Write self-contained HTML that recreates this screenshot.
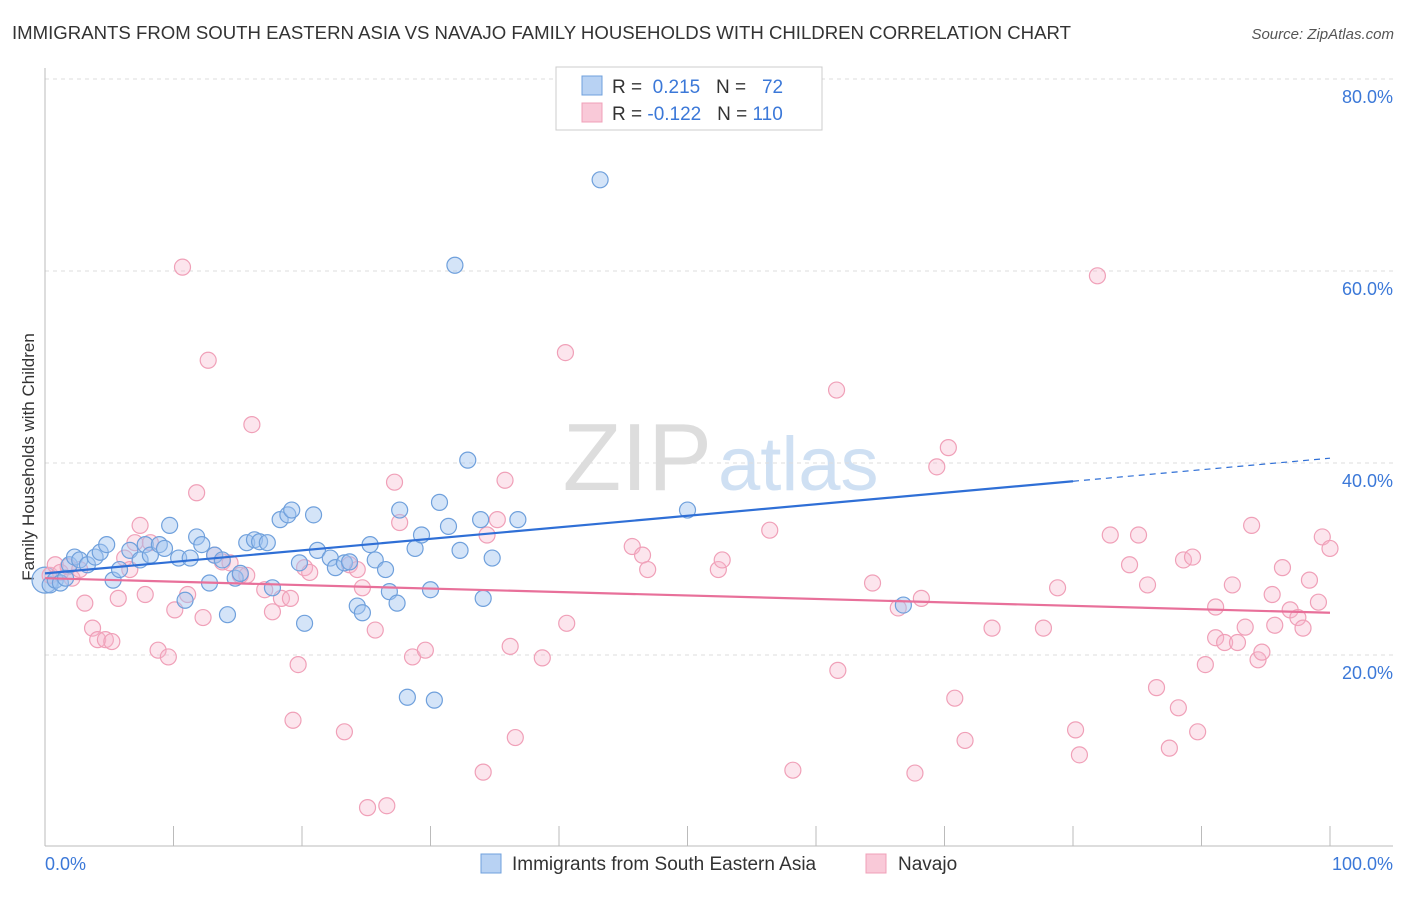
<!DOCTYPE html>
<html><head><meta charset="utf-8"><style>
body{margin:0;background:#fff;font-family:"Liberation Sans",sans-serif}
svg text{font-family:"Liberation Sans",sans-serif}
</style></head><body>
<svg width="1406" height="892" viewBox="0 0 1406 892" xmlns="http://www.w3.org/2000/svg">
<text x="12" y="39" font-size="18.6" fill="#333">IMMIGRANTS FROM SOUTH EASTERN ASIA VS NAVAJO FAMILY HOUSEHOLDS WITH CHILDREN CORRELATION CHART</text>
<text x="1394" y="39" font-size="15" fill="#555" font-style="italic" text-anchor="end">Source: ZipAtlas.com</text>
<text x="712" y="490" font-size="96" fill="#ddd" font-family="Liberation Serif" text-anchor="end">ZIP</text>
<text x="718" y="490" font-size="76" fill="#cfe0f3">atlas</text>
<g id="grid"></g>
<g id="axes"></g>
<text transform="translate(34,457) rotate(-90)" font-size="17" fill="#333" text-anchor="middle">Family Households with Children</text>
<g id="marks"></g>
<g>
<rect x="556" y="67" width="266" height="63" fill="#fff" stroke="#ccc"/>
<rect x="582" y="76" width="20" height="19" fill="#b8d2f3" stroke="#6fa0dc"/>
<rect x="582" y="103" width="20" height="19" fill="#f9c9d8" stroke="#f0a0b8"/>
<text x="612" y="93" font-size="19" fill="#333">R = <tspan fill="#3b78d8">&#160;0.215</tspan>&#160;&#160;&#160;N = <tspan fill="#3b78d8">&#160;&#160;72</tspan></text>
<text x="612" y="120" font-size="19" fill="#333">R = <tspan fill="#3b78d8">-0.122</tspan>&#160;&#160;&#160;N = <tspan fill="#3b78d8">110</tspan></text>
</g>
<g>
<rect x="481" y="854" width="20" height="19" fill="#b8d2f3" stroke="#6fa0dc"/>
<text x="512" y="870" font-size="19" fill="#333">Immigrants from South Eastern Asia</text>
<rect x="866" y="854" width="20" height="19" fill="#f9c9d8" stroke="#f0a0b8"/>
<text x="898" y="870" font-size="19" fill="#333">Navajo</text>
</g>
</svg>
<script>
const yTicks=[20,40,60,80];
const yTickLabels=["20.0%","40.0%","60.0%","80.0%"];
const xTicks=[0,10,20,30,40,50,60,70,80,90,100];
const blueX=[0.4,0.8,1.2,1.6,1.9,2.3,2.7,3.3,3.9,4.3,4.8,5.3,5.8,6.6,7.4,7.8,8.2,8.9,9.3,9.7,10.4,10.9,11.3,11.8,12.2,12.8,13.2,13.8,14.2,14.8,15.2,15.7,16.3,16.7,17.3,17.7,18.3,18.9,19.2,19.8,20.2,20.9,21.2,22.2,22.6,23.3,23.7,24.3,24.7,25.3,25.7,26.5,26.8,27.4,27.6,28.2,28.8,29.3,30.0,30.3,30.7,31.4,31.9,32.3,32.9,33.9,34.1,34.8,36.8,43.2,50.0,66.8];
const blueY=[27.3,27.8,27.5,28.0,29.4,30.2,29.9,29.4,30.2,30.7,31.5,27.8,28.9,30.9,29.9,31.5,30.4,31.5,31.1,33.5,30.1,25.7,30.1,32.3,31.5,27.5,30.4,29.9,24.2,28.0,28.5,31.7,32.0,31.8,31.7,27.0,34.1,34.6,35.1,29.6,23.3,34.6,30.9,30.1,29.1,29.6,29.7,25.1,24.4,31.5,29.9,28.9,26.6,25.4,35.1,15.6,31.1,32.5,26.8,15.3,35.9,33.4,60.6,30.9,40.3,34.1,25.9,30.1,34.1,69.5,35.1,25.2];
const pinkX=[0.4,0.8,1.2,1.8,2.1,2.7,3.1,3.7,4.1,4.7,5.2,5.7,6.2,6.6,7.0,7.4,7.8,8.2,8.8,9.6,10.1,10.7,11.1,11.8,12.3,12.7,13.2,13.8,14.4,15.2,15.7,16.1,17.1,17.7,18.4,19.1,19.3,19.7,20.2,20.6,23.3,23.7,24.3,24.7,25.1,25.7,26.6,27.2,27.6,28.6,29.6,34.1,34.4,35.2,35.8,36.2,36.6,38.7,40.5,40.6,45.7,46.5,46.9,52.4,52.7,56.4,58.2,61.7,61.6,64.4,66.4,67.7,68.2,69.4,70.3,70.8,71.6,73.7,77.7,78.8,80.2,80.5,81.9,82.9,84.4,85.1,85.8,86.5,88.2,88.6,89.3,87.5,89.7,90.3,91.1,91.1,91.8,92.4,92.8,93.4,93.9,94.4,94.7,95.5,95.7,96.3,96.9,97.5,97.9,98.4,99.1,99.4,100];
const pinkY=[28.3,29.4,28.6,29.2,28.0,28.9,25.4,22.8,21.6,21.6,21.4,25.9,30.1,28.9,31.7,33.5,26.3,31.7,20.5,19.8,24.7,60.4,26.3,36.9,23.9,50.7,30.4,29.7,29.6,28.3,28.3,44.0,26.8,24.5,25.9,25.9,13.2,19.0,29.1,28.6,12.0,29.4,28.9,27.0,4.1,22.6,4.3,38.0,33.8,19.8,20.5,7.8,32.5,34.1,38.2,20.9,11.4,19.7,51.5,23.3,31.3,30.4,28.9,28.9,29.9,33.0,8.0,18.4,47.6,27.5,24.9,7.7,25.9,39.6,41.6,15.5,11.1,22.8,22.8,27.0,12.2,9.6,59.5,32.5,29.4,32.5,27.3,16.6,14.5,29.9,30.2,10.3,12.0,19.0,25.0,21.8,21.3,27.3,21.3,22.9,33.5,19.5,20.3,26.3,23.1,29.1,24.7,23.9,22.8,27.8,25.5,32.3,31.1];
const blueTrend=[28.5,38.1,40.5];
const pinkTrend=[28.0,24.4];
const NS="http://www.w3.org/2000/svg";
const X=v=>45+v*12.85, Y=v=>847-v*9.6;
function mk(tag,attrs,parent){const e=document.createElementNS(NS,tag);for(const k in attrs)e.setAttribute(k,attrs[k]);parent.appendChild(e);return e;}
const grid=document.getElementById('grid'),axes=document.getElementById('axes'),marks=document.getElementById('marks');
yTicks.forEach((t,i)=>{
 const l=mk('line',{x1:45,x2:1393,y1:Y(t),y2:Y(t),stroke:'#ddd','stroke-dasharray':'4,4'},grid);
 
 
 const tx=mk('text',{x:1393,y:Y(t)+24,'font-size':18,fill:'#3b78d8','text-anchor':'end'},axes);tx.textContent=yTickLabels[i];
 
 
});
const topGrid=mk('line',{x1:45,x2:1393,y1:79,y2:79,stroke:'#ddd','stroke-dasharray':'4,4'},grid);


const ax=mk('line',{x1:45,x2:45,y1:68,y2:846,stroke:'#bbb'},axes);


const bx=mk('line',{x1:45,x2:1393,y1:846,y2:846,stroke:'#bbb'},axes);


xTicks.forEach(t=>{const l=mk('line',{x1:X(t),x2:X(t),y1:826,y2:846,stroke:'#bbb'},axes);
 
 });
const x0=mk('text',{x:45,y:870,'font-size':18,fill:'#3b78d8'},axes);x0.textContent='0.0%';


const x1=mk('text',{x:1393,y:870,'font-size':18,fill:'#3b78d8','text-anchor':'end'},axes);x1.textContent='100.0%';


const big=mk('circle',{cx:X(0),cy:Y(27.8),r:13,fill:'rgba(160,196,240,0.45)',stroke:'#6fa0dc','stroke-width':1.2},marks);


pinkX.forEach((v,i)=>{const c=mk('circle',{cx:X(v),cy:Y(pinkY[i]),r:8,fill:'rgba(246,180,202,0.35)',stroke:'#f0a0b8','stroke-width':1.2},marks);
 
 });
blueX.forEach((v,i)=>{const c=mk('circle',{cx:X(v),cy:Y(blueY[i]),r:8,fill:'rgba(160,196,240,0.45)',stroke:'#6fa0dc','stroke-width':1.2},marks);
 
 });
const bl=mk('line',{x1:X(0),y1:Y(blueTrend[0]),x2:X(80),y2:Y(blueTrend[1]),stroke:'#2f6fd6','stroke-width':2.2},marks);


const bd=mk('line',{x1:X(80),y1:Y(blueTrend[1]),x2:X(100),y2:Y(blueTrend[2]),stroke:'#2f6fd6','stroke-width':1.2,'stroke-dasharray':'6,5'},marks);


const pl=mk('line',{x1:X(0),y1:Y(pinkTrend[0]),x2:X(100),y2:Y(pinkTrend[1]),stroke:'#e8709a','stroke-width':2.2},marks);


</script>
</body></html>
